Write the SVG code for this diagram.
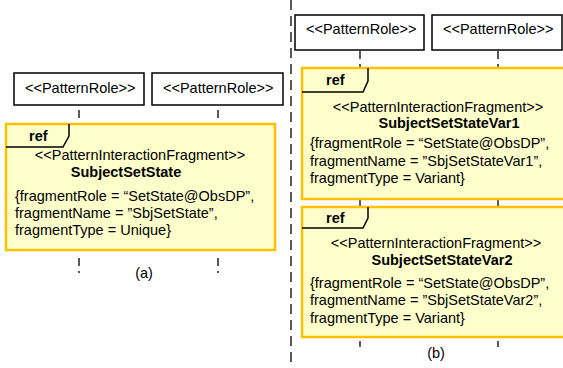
<svg xmlns="http://www.w3.org/2000/svg" width="563" height="368" viewBox="0 0 563 368">
<style>
text{font-family:"Liberation Sans",Arial,sans-serif;font-size:14.5px;fill:#000}
.b{font-weight:bold}
.c{text-anchor:middle}
.role{fill:#fff;stroke:#000;stroke-width:1.5}
.frame{fill:#FFFFCC;stroke:#FFC000;stroke-width:2.5}
.tab{fill:none;stroke:#000;stroke-width:1.5}
.life{stroke:#000;stroke-width:1.3;stroke-dasharray:8 5;fill:none}
.div{stroke:#000;stroke-width:1.3;stroke-dasharray:10 6}
</style>
<rect width="563" height="368" fill="#fff"/>
<g id="connectors">
<line class="div" x1="291" y1="0" x2="291" y2="368"/>
<line class="life" x1="79" y1="110" x2="79" y2="122"/>
<line class="life" x1="218" y1="110" x2="218" y2="122"/>
<line class="life" x1="79" y1="258" x2="79" y2="273"/>
<line class="life" x1="218" y1="258" x2="218" y2="273"/>
<line class="life" x1="360" y1="51" x2="360" y2="67"/>
<line class="life" x1="498" y1="51" x2="498" y2="67"/>
<line class="life" x1="360" y1="200" x2="360" y2="206"/>
<line class="life" x1="498" y1="200" x2="498" y2="206"/>
<line class="life" x1="360" y1="341" x2="360" y2="347"/>
<line class="life" x1="498" y1="341" x2="498" y2="347"/>
</g>
<g id="roleA1"><rect class="role" x="14" y="73" width="130" height="32"/><text x="25" y="93">&lt;&lt;PatternRole&gt;&gt;</text></g>
<g id="roleA2"><rect class="role" x="152" y="73" width="131" height="32"/><text x="163" y="93">&lt;&lt;PatternRole&gt;&gt;</text></g>
<g id="fragA">
<rect class="frame" x="6" y="124" width="269" height="126"/>
<path class="tab" d="M6,147 L63,147 L69,136 L69,124"/>
<text class="b" x="29" y="141">ref</text>
<text class="c" x="140" y="160">&lt;&lt;PatternInteractionFragment&gt;&gt;</text>
<text class="b c" x="126" y="177">SubjectSetState</text>
<text x="15" y="201">{fragmentRole = “SetState@ObsDP”,</text>
<text x="15" y="218">fragmentName = ”SbjSetState”,</text>
<text x="15" y="235">fragmentType = Unique}</text>
</g>
<text id="labelA" class="c" x="144" y="278">(a)</text>
<g id="roleB1"><rect class="role" x="295" y="15" width="129" height="35"/><text x="306" y="34">&lt;&lt;PatternRole&gt;&gt;</text></g>
<g id="roleB2"><rect class="role" x="432" y="15" width="130" height="35"/><text x="443" y="34">&lt;&lt;PatternRole&gt;&gt;</text></g>
<g id="fragB1">
<rect class="frame" x="302" y="68" width="280" height="131"/>
<path class="tab" d="M302,92 L363,92 L368,81 L368,68"/>
<text class="b" x="326" y="85">ref</text>
<text class="c" x="438" y="112">&lt;&lt;PatternInteractionFragment&gt;&gt;</text>
<text class="b c" x="449" y="128">SubjectSetStateVar1</text>
<text x="310" y="148">{fragmentRole = “SetState@ObsDP”,</text>
<text x="310" y="166">fragmentName = ”SbjSetStateVar1”,</text>
<text x="310" y="183">fragmentType = Variant}</text>
</g>
<g id="fragB2">
<rect class="frame" x="302" y="207" width="280" height="130"/>
<path class="tab" d="M302,228 L363,228 L368,218 L368,207"/>
<text class="b" x="326" y="223">ref</text>
<text class="c" x="436" y="248">&lt;&lt;PatternInteractionFragment&gt;&gt;</text>
<text class="b c" x="442" y="265">SubjectSetStateVar2</text>
<text x="310" y="288">{fragmentRole = “SetState@ObsDP”,</text>
<text x="310" y="305">fragmentName = ”SbjSetStateVar2”,</text>
<text x="310" y="323">fragmentType = Variant}</text>
</g>
<text id="labelB" class="c" x="436" y="358">(b)</text>
</svg>
